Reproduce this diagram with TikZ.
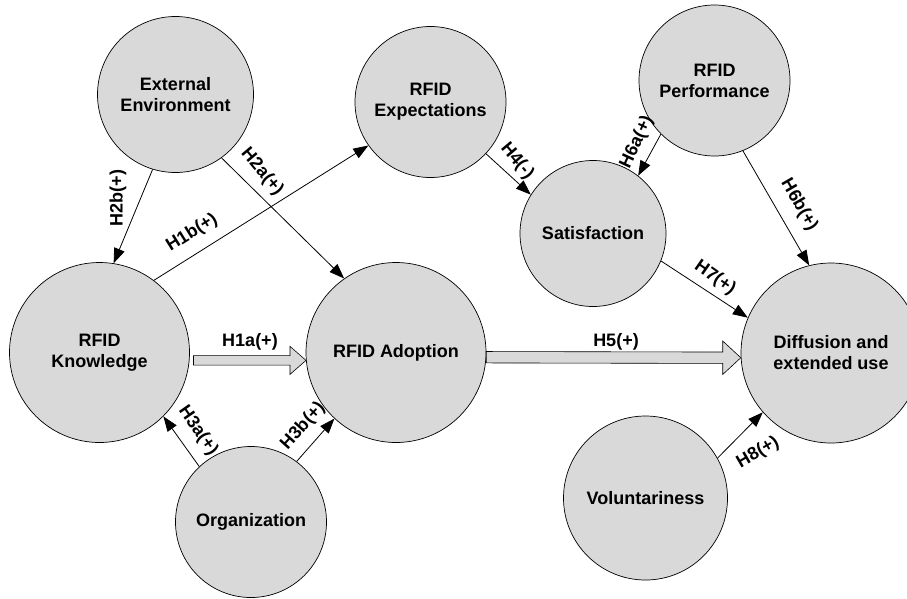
\documentclass[tikz,border=0pt]{standalone}
\usepackage{fontspec}
\setmainfont{Liberation Sans}
\usetikzlibrary{arrows.meta,calc}
\definecolor{cfill}{HTML}{D9D9D9}
\begin{document}
\begin{tikzpicture}[x=1pt,y=-1pt,
  font=\fontsize{18}{21}\selectfont\bfseries,
  cnode/.style={circle,draw=black,line width=0.7pt,fill=cfill,inner sep=0pt,align=center},
  link/.style={line width=0.8pt,-{Triangle[length=15pt,width=11pt]}},
  lab/.style={inner sep=0pt},
  hollow/.style={draw=black,line width=0.6pt,fill=cfill,line join=miter}]
\useasboundingbox (0,0) rectangle (907,598);
% nodes
\node[cnode,minimum size=156pt] (EE) at (175.5,94.5) {External\\Environment};
\node[cnode,minimum size=151pt] (EX) at (430.5,102) {RFID\\Expectations};
\node[cnode,minimum size=151pt] (PF) at (714.5,80.5) {RFID\\Performance};
\node[cnode,minimum size=146pt] (SA) at (593,233.5) {Satisfaction};
\node[cnode,minimum size=180pt] (KN) at (99.5,352.5) {RFID\\Knowledge};
\node[cnode,minimum size=180pt] (AD) at (396,352.5) {RFID Adoption};
\node[cnode,minimum size=180pt] (DI) at (831,353) {Diffusion and\\extended use};
\node[cnode,minimum size=151pt] (OR) at (251,522) {Organization};
\node[cnode,minimum size=164pt] (VO) at (645.5,498) {Voluntariness};
% connectors
\draw[link] (EE.253.3) -- (KN.81.4);
\draw[link] (EE.-54.2) -- (AD.125.8);
\draw[link] (KN.53.2) -- (EX.215.1);
\draw[link] (EX.-43.1) -- (SA.148.5);
\draw[link] (PF.225) -- (SA.52.9);
\draw[link] (PF.-68.4) -- (DI.104.9);
\draw[link] (SA.-22) -- (DI.157.2);
\draw[link] (VO.29.4) -- (DI.221.1);
\draw[link] (OR.133.4) -- (KN.-45.4);
\draw[link] (OR.53.4) -- (AD.227.4);
% hollow arrows
\coordinate (h1s) at ($(KN.-5.4)+(4,0)$);
\coordinate (h1e) at (AD.185.4);
\draw[hollow] ($(h1s)+(0,-4.7)$) -- ($(h1e)+(-16,-4.7)$) -- ($(h1e)+(-16,-14)$) -- (h1e)
  -- ($(h1e)+(-16,14)$) -- ($(h1e)+(-16,4.7)$) -- ($(h1s)+(0,4.7)$) -- cycle;
\coordinate (h5s) at (AD.-3.5);
\coordinate (h5e) at (DI.183.2);
\draw[hollow] ($(h5s)+(0,-5.7)$) -- ($(h5e)+(-18,-5.7)$) -- ($(h5e)+(-18,-16.7)$) -- (h5e)
  -- ($(h5e)+(-18,16.7)$) -- ($(h5e)+(-18,5.7)$) -- ($(h5s)+(0,5.7)$) -- cycle;
% labels
\node[lab,rotate=90] (l2b) at (118,198) {H2b(+)};
\node[lab,rotate=-50] (l2a) at (262,172) {H2a(+)};
\node[lab,rotate=32] (l1b) at (192,233) {H1b(+)};
\node[lab,rotate=-50] (l4) at (517,161) {H4(-)};
\node[lab,rotate=65] (l6a) at (637,142) {H6a(+)};
\node[lab,rotate=-60] (l6b) at (799,205) {H6b(+)};
\node[lab,rotate=-35] (l7) at (715,278) {H7(+)};
\node[lab,rotate=30] (l8) at (758,453) {H8(+)};
\node[lab,rotate=-55] (l3a) at (198,431) {H3a(+)};
\node[lab,rotate=48] (l3b) at (303,426) {H3b(+)};
\node[lab] (l1a) at (250,342) {H1a(+)};
\node[lab] (l5) at (616,342) {H5(+)};
\end{tikzpicture}
\end{document}
